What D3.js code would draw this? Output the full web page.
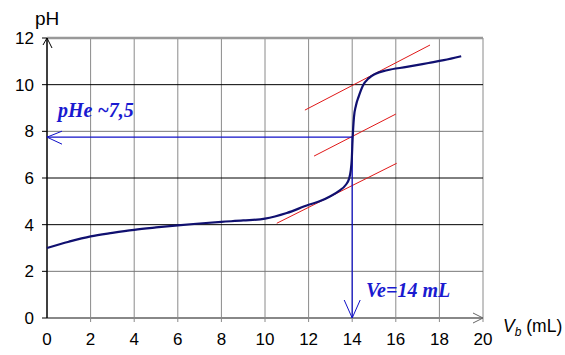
<!DOCTYPE html>
<html><head><meta charset="utf-8">
<script src="https://cdn.jsdelivr.net/npm/d3@7"></script>
<style>body{margin:0;background:#fff}svg{display:block}</style>
</head><body>
<script>
const vb = [0,1,2,3,4,5,6,7,8,9,10,11,12,12.5,13,13.4,13.7,13.85,13.93,13.98,14.02,14.08,14.17,14.3,14.5,14.75,15.05,15.6,16.5,17.5,18.2,19];
const ph = [3.0,3.27,3.5,3.65,3.78,3.88,3.97,4.05,4.12,4.18,4.26,4.5,4.85,5.0,5.22,5.45,5.7,5.95,6.3,6.8,7.7,8.6,9.1,9.5,9.98,10.27,10.46,10.62,10.76,10.93,11.05,11.22];
const xTicks = [0,2,4,6,8,10,12,14,16,18,20];
const yTicks = [0,2,4,6,8,10,12];
const darkGrid = [4,6,10];
const tangents = [
  {x1:10.54,y1:4.06,x2:16.04,y2:6.63},
  {x1:12.25,y1:6.94,x2:16.0,y2:8.74},
  {x1:11.83,y1:8.91,x2:17.57,y2:11.7}
];
const pHe = 7.75, Ve = 14;
const pHeLabel = "pHe ~7,5", VeLabel = "Ve=14 mL";

const W=565,H=355;
const svg=d3.select("body").append("svg").attr("width",W).attr("height",H);
const x=d3.scaleLinear().domain([0,20]).range([47,483]);
const y=d3.scaleLinear().domain([0,12]).range([318,38]);
const sans="Liberation Sans, Arial, sans-serif";

// vertical grid
svg.append("g").selectAll("line").data(xTicks.filter(d=>d>0)).join("line")
  .attr("x1",d=>x(d)).attr("x2",d=>x(d)).attr("y1",y(12)).attr("y2",y(0)+4)
  .attr("stroke","#8a8a8a").attr("stroke-width",1);
// horizontal grid
svg.append("g").selectAll("line").data(yTicks.filter(d=>d>0&&d<12)).join("line")
  .attr("x1",x(0)).attr("x2",x(20)).attr("y1",d=>y(d)).attr("y2",d=>y(d))
  .attr("stroke",d=>darkGrid.includes(d)?"#000":"#777").attr("stroke-width",1);
// top border
svg.append("line").attr("x1",x(0)).attr("x2",x(20)).attr("y1",y(12)).attr("y2",y(12))
  .attr("stroke","#999").attr("stroke-width",2.5);
// x axis
svg.append("line").attr("x1",x(0)).attr("x2",x(20)).attr("y1",y(0)).attr("y2",y(0))
  .attr("stroke","#888").attr("stroke-width",2);
svg.append("path").attr("d",`M${x(20)-10},${y(0)-5}L${x(20)},${y(0)}L${x(20)-10},${y(0)+5}`)
  .attr("fill","none").attr("stroke","#666").attr("stroke-width",1);
// y axis
svg.append("line").attr("x1",x(0)).attr("x2",x(0)).attr("y1",y(12)).attr("y2",y(0))
  .attr("stroke","#000").attr("stroke-width",1.5);
svg.append("path").attr("d",`M${x(0)-4},${y(12)+7}L${x(0)},${y(12)}L${x(0)+5},${y(12)+10}`)
  .attr("fill","none").attr("stroke","#000").attr("stroke-width",1);
// y ticks
svg.append("g").selectAll("line").data(yTicks).join("line")
  .attr("x1",x(0)-5).attr("x2",x(0)).attr("y1",d=>y(d)).attr("y2",d=>y(d))
  .attr("stroke","#000");
svg.append("g").attr("font-family",sans).attr("font-size",17)
  .selectAll("text").data(yTicks).join("text")
  .attr("x",34).attr("y",d=>y(d)+6).attr("text-anchor","end").text(d=>d);
svg.append("g").attr("font-family",sans).attr("font-size",17)
  .selectAll("text").data(xTicks).join("text")
  .attr("x",d=>x(d)).attr("y",345).attr("text-anchor","middle").text(d=>d);
// axis labels
svg.append("text").attr("x",35).attr("y",25).attr("font-family",sans)
  .attr("font-size",19).text("pH");
const xl=svg.append("text").attr("x",503).attr("y",332).attr("font-family",sans).attr("font-size",17.5);
xl.append("tspan").attr("font-style","italic").text("V");
xl.append("tspan").attr("font-style","italic").attr("font-size",12).attr("dy",4).text("b");
xl.append("tspan").attr("dy",-4).text(" (mL)");

// tangents
svg.append("g").selectAll("line").data(tangents).join("line")
  .attr("x1",d=>x(d.x1)).attr("y1",d=>y(d.y1)).attr("x2",d=>x(d.x2)).attr("y2",d=>y(d.y2))
  .attr("stroke","#e01818").attr("stroke-width",1);

// blue construction lines
const blue="#1010c8";
svg.append("line").attr("x1",x(Ve)).attr("x2",x(0)).attr("y1",y(pHe)).attr("y2",y(pHe))
  .attr("stroke",blue).attr("stroke-width",1.2);
svg.append("path").attr("d",`M${x(0)+15},${y(pHe)-6}L${x(0)},${y(pHe)}L${x(0)+15},${y(pHe)+7}`)
  .attr("fill","none").attr("stroke",blue).attr("stroke-width",1);
svg.append("line").attr("x1",x(Ve)).attr("x2",x(Ve)).attr("y1",y(pHe)).attr("y2",y(0))
  .attr("stroke",blue).attr("stroke-width",1.2);
svg.append("path").attr("d",`M${x(Ve)-8},${y(0)-18}L${x(Ve)},${y(0)}L${x(Ve)+8},${y(0)-18}`)
  .attr("fill","none").attr("stroke",blue).attr("stroke-width",1);

// curve
const pts=vb.map((v,i)=>[v,ph[i]]);
svg.append("path").datum(pts)
  .attr("d",d3.line().x(d=>x(d[0])).y(d=>y(d[1])).curve(d3.curveMonotoneX))
  .attr("fill","none").attr("stroke","#101070").attr("stroke-width",2.2);

// annotations
const serif="Liberation Serif, Times New Roman, serif";
svg.append("text").attr("x",58).attr("y",117).attr("fill","#1a1ad0")
  .attr("font-family",serif).attr("font-style","italic").attr("font-weight","bold")
  .attr("font-size",20).text(pHeLabel);
svg.append("text").attr("x",366).attr("y",297).attr("fill","#1a1ad0")
  .attr("font-family",serif).attr("font-style","italic").attr("font-weight","bold")
  .attr("font-size",20).text(VeLabel);
</script>
</body></html>
